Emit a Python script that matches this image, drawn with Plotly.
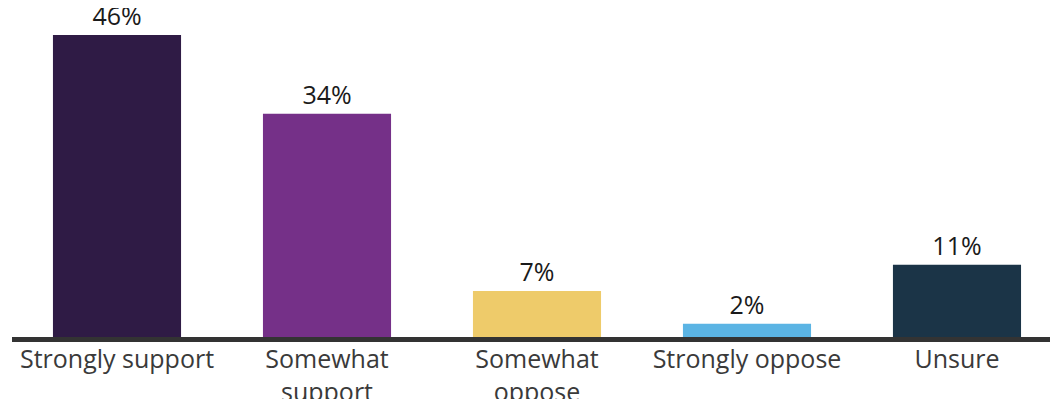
import plotly.graph_objects as go

categories = ["Strongly support", "Somewhat support", "Somewhat oppose", "Strongly oppose", "Unsure"]
tick_labels = ["Strongly support", "Somewhat<br>support", "Somewhat<br>oppose", "Strongly oppose", "Unsure"]
values = [46, 34, 7, 2, 11]
colors = ["#2F1B45", "#753088", "#EECB6A", "#5BB4E4", "#1B3447"]

fig = go.Figure()
fig.add_trace(go.Bar(
    x=categories,
    y=values,
    marker=dict(color=colors, line=dict(width=0)),
    width=0.61,
    text=[f"{v}%" for v in values],
    textposition="outside",
    textfont=dict(family="Open Sans", size=25, color="#1a1a1a"),
    cliponaxis=False,
))

fig.update_layout(
    width=1050,
    height=391,
    margin=dict(l=4, r=0, t=0, b=62, autoexpand=False),
    paper_bgcolor="white",
    plot_bgcolor="white",
    showlegend=False,
    font=dict(family="Open Sans"),
    xaxis=dict(
        range=[-0.5, 4.481],
        tickmode="array",
        tickvals=categories,
        ticktext=tick_labels,
        tickfont=dict(family="Open Sans", size=25, color="#3a3a3a"),
        showline=True,
        linecolor="#333333",
        linewidth=5,
        showgrid=False,
        ticks="",
        automargin=False,
        ticklabelstandoff=-4,
    ),
    yaxis=dict(
        range=[0, 50.1],
        visible=False,
        showgrid=False,
        automargin=False,
    ),
)

fig.write_html("out.html")
